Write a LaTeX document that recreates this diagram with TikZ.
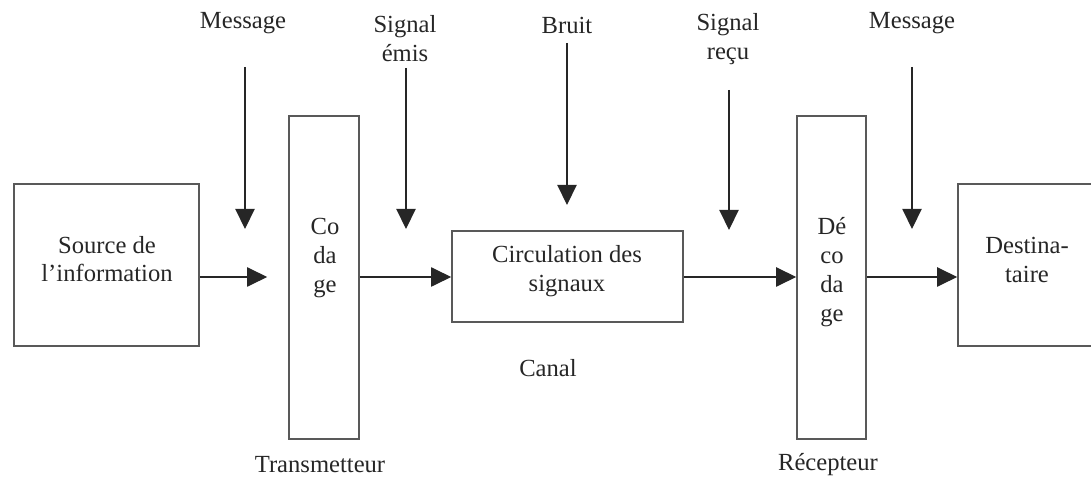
\documentclass[tikz,border=0pt]{standalone}
\usepackage{fontspec}
\setmainfont{Liberation Serif}
\usetikzlibrary{arrows.meta,positioning}

\tikzset{
  box/.style={draw=black!65, line width=1.1pt, inner sep=0pt},
  txt/.style={align=center, text=black!85, inner sep=0pt,
              font=\fontsize{17.5}{20.5}\selectfont},
  arr/.style={-{Triangle[length=0.5cm,width=0.48cm]}, line width=0.9pt, black!85},
}

\begin{document}
\begin{tikzpicture}[x=0.025cm, y=-0.025cm]
\useasboundingbox (0,0) rectangle (1091,497);

% blocs
\node[box, minimum width=4.625cm, minimum height=4.05cm] (source) at (106.5,265) {};
\node[box, minimum width=1.75cm, minimum height=8.075cm] (codage) at (324,277.5) {};
\node[box, minimum width=5.775cm, minimum height=2.275cm] (canal) at (567.5,276.5) {};
\node[box, minimum width=1.725cm, minimum height=8.075cm] (decodage) at (831.5,277.5) {};
\node[box, minimum width=3.45cm, minimum height=4.05cm] (dest) at (1027,265) {};

% textes des blocs
\node[txt] (sourcetxt) at (107,259) {Source de\\l’information};
\node[txt] (codagetxt) at (325,258) {Co\\da\\ge};
\node[txt] (canaltxt) at (567,271) {Circulation des\\signaux};
\node[txt] (decodagetxt) at (832,272) {Dé\\co\\da\\ge};
\node[txt] (desttxt) at (1027,260) {Destina-\\taire};

% chaine horizontale
\coordinate (row) at (0,277);
\draw[arr, shorten >=0.525cm] (source.east |- row) -- (codage.west |- row);
\draw[arr] (codage.east |- row) -- (canal.west |- row);
\draw[arr] (canal.east |- row) -- (decodage.west |- row);
\draw[arr] (decodage.east |- row) -- (dest.west |- row);

% entrees verticales
\node[txt] (msgin) at (243,23) {Message};
\coordinate (msgintop) at (245,67);
\coordinate (msginend) at (245,229);
\draw[arr] (msgintop) -- (msginend);

\node[txt] (emis) at (405,39) {Signal\\émis};
\coordinate (emistop) at (406,68);
\coordinate (emisend) at (406,229);
\draw[arr] (emistop) -- (emisend);

\node[txt] (bruit) at (567,25) {Bruit};
\coordinate (bruittop) at (567,43);
\coordinate (bruitend) at (567,205);
\draw[arr] (bruittop) -- (bruitend);

\node[txt] (recu) at (728,39) {Signal\\reçu};
\coordinate (recutop) at (729,90);
\coordinate (recuend) at (729,230);
\draw[arr] (recutop) -- (recuend);

\node[txt] (msgout) at (912,23) {Message};
\coordinate (msgouttop) at (912,67);
\coordinate (msgoutend) at (912,229);
\draw[arr] (msgouttop) -- (msgoutend);

% legendes
\node[txt] (canallbl) at (548,368) {Canal};
\node[txt] (translbl) at (320,465) {Transmetteur};
\node[txt] (recplbl) at (828,465) {Récepteur};
\end{tikzpicture}
\end{document}
